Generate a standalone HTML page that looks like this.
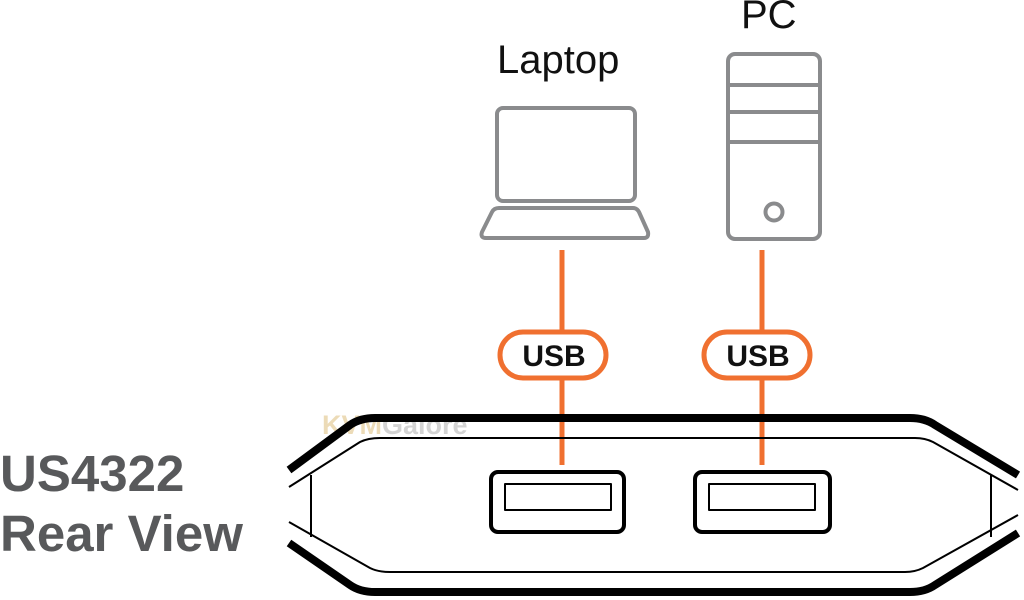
<!DOCTYPE html>
<html><head><style>
body{margin:0;width:1024px;height:600px;background:#fff;overflow:hidden;position:relative;font-family:"Liberation Sans",sans-serif}
.t{position:absolute;white-space:nowrap}
</style></head><body>
<svg width="1024" height="600" style="position:absolute;left:0;top:0">
<g fill="none" stroke="#8a8b8d" stroke-width="4" stroke-linejoin="round">
<rect x="497" y="108" width="138" height="93" rx="6"/>
<path d="M499 208 L633 208 Q637 208 639 212 L648 232 Q649 238 644 238 L486 238 Q480 238 482 232 L492 212 Q494 208 499 208 Z"/>
<rect x="728" y="54" width="92" height="185" rx="7"/>
<line x1="728" y1="85" x2="820" y2="85"/><line x1="728" y1="112" x2="820" y2="112"/><line x1="728" y1="142" x2="820" y2="142"/>
<circle cx="774" cy="212" r="8.5"/>
</g>
<g stroke="#f07030" stroke-width="5" fill="none">
<line x1="562" y1="250" x2="562" y2="465"/><line x1="762" y1="250" x2="762" y2="465"/>
<rect x="500" y="332" width="106" height="46" rx="23" fill="#fff"/>
<rect x="704" y="332" width="106" height="46" rx="23" fill="#fff"/>
</g>
<text x="554" y="366" text-anchor="middle" font-family="Liberation Sans" font-weight="bold" font-size="30" fill="#111">USB</text>
<text x="758" y="366" text-anchor="middle" font-family="Liberation Sans" font-weight="bold" font-size="30" fill="#111">USB</text>
<text x="322" y="434" font-family="Liberation Sans" font-weight="bold" font-size="27" fill="#e8d3a6" opacity="0.8">KVM<tspan fill="#c9c9c9">Galore</tspan></text>
<g fill="none" stroke="#000" stroke-linejoin="round">
<path d="M289 470 L350 425 Q360 418 375 418 L910 418 Q925 418 935 425 L1018 475" stroke-width="8"/>
<path d="M289 543 L350 585 Q360 592 375 592 L910 592 Q925 592 935 585 L1018 533" stroke-width="8"/>
<path d="M289 487 L360 442 Q368 438 380 438 L915 438 Q925 438 933 442 L1018 490" stroke-width="2"/>
<path d="M289 522 L370 568 Q378 572 390 572 L905 572 Q915 572 923 568 L1018 515" stroke-width="2"/>
<line x1="311" y1="475" x2="311" y2="537" stroke-width="2"/>
<line x1="991" y1="475" x2="991" y2="537" stroke-width="2"/>
<rect x="491" y="472" width="133" height="60" rx="7" stroke-width="4"/>
<rect x="505" y="484" width="106" height="26" stroke-width="2"/>
<rect x="695" y="472" width="135" height="60" rx="7" stroke-width="4"/>
<rect x="709" y="484" width="106" height="26" stroke-width="2"/>
</g>
</svg>
<div class="t" style="left:497px;top:38px;font-size:40px;color:#111">Laptop</div>
<div class="t" style="left:741px;top:-7px;font-size:40px;color:#111">PC</div>
<div class="t" style="left:0;top:444px;font-size:51px;font-weight:bold;color:#58595b;line-height:60px">US4322<br>Rear View</div>
</body></html>
